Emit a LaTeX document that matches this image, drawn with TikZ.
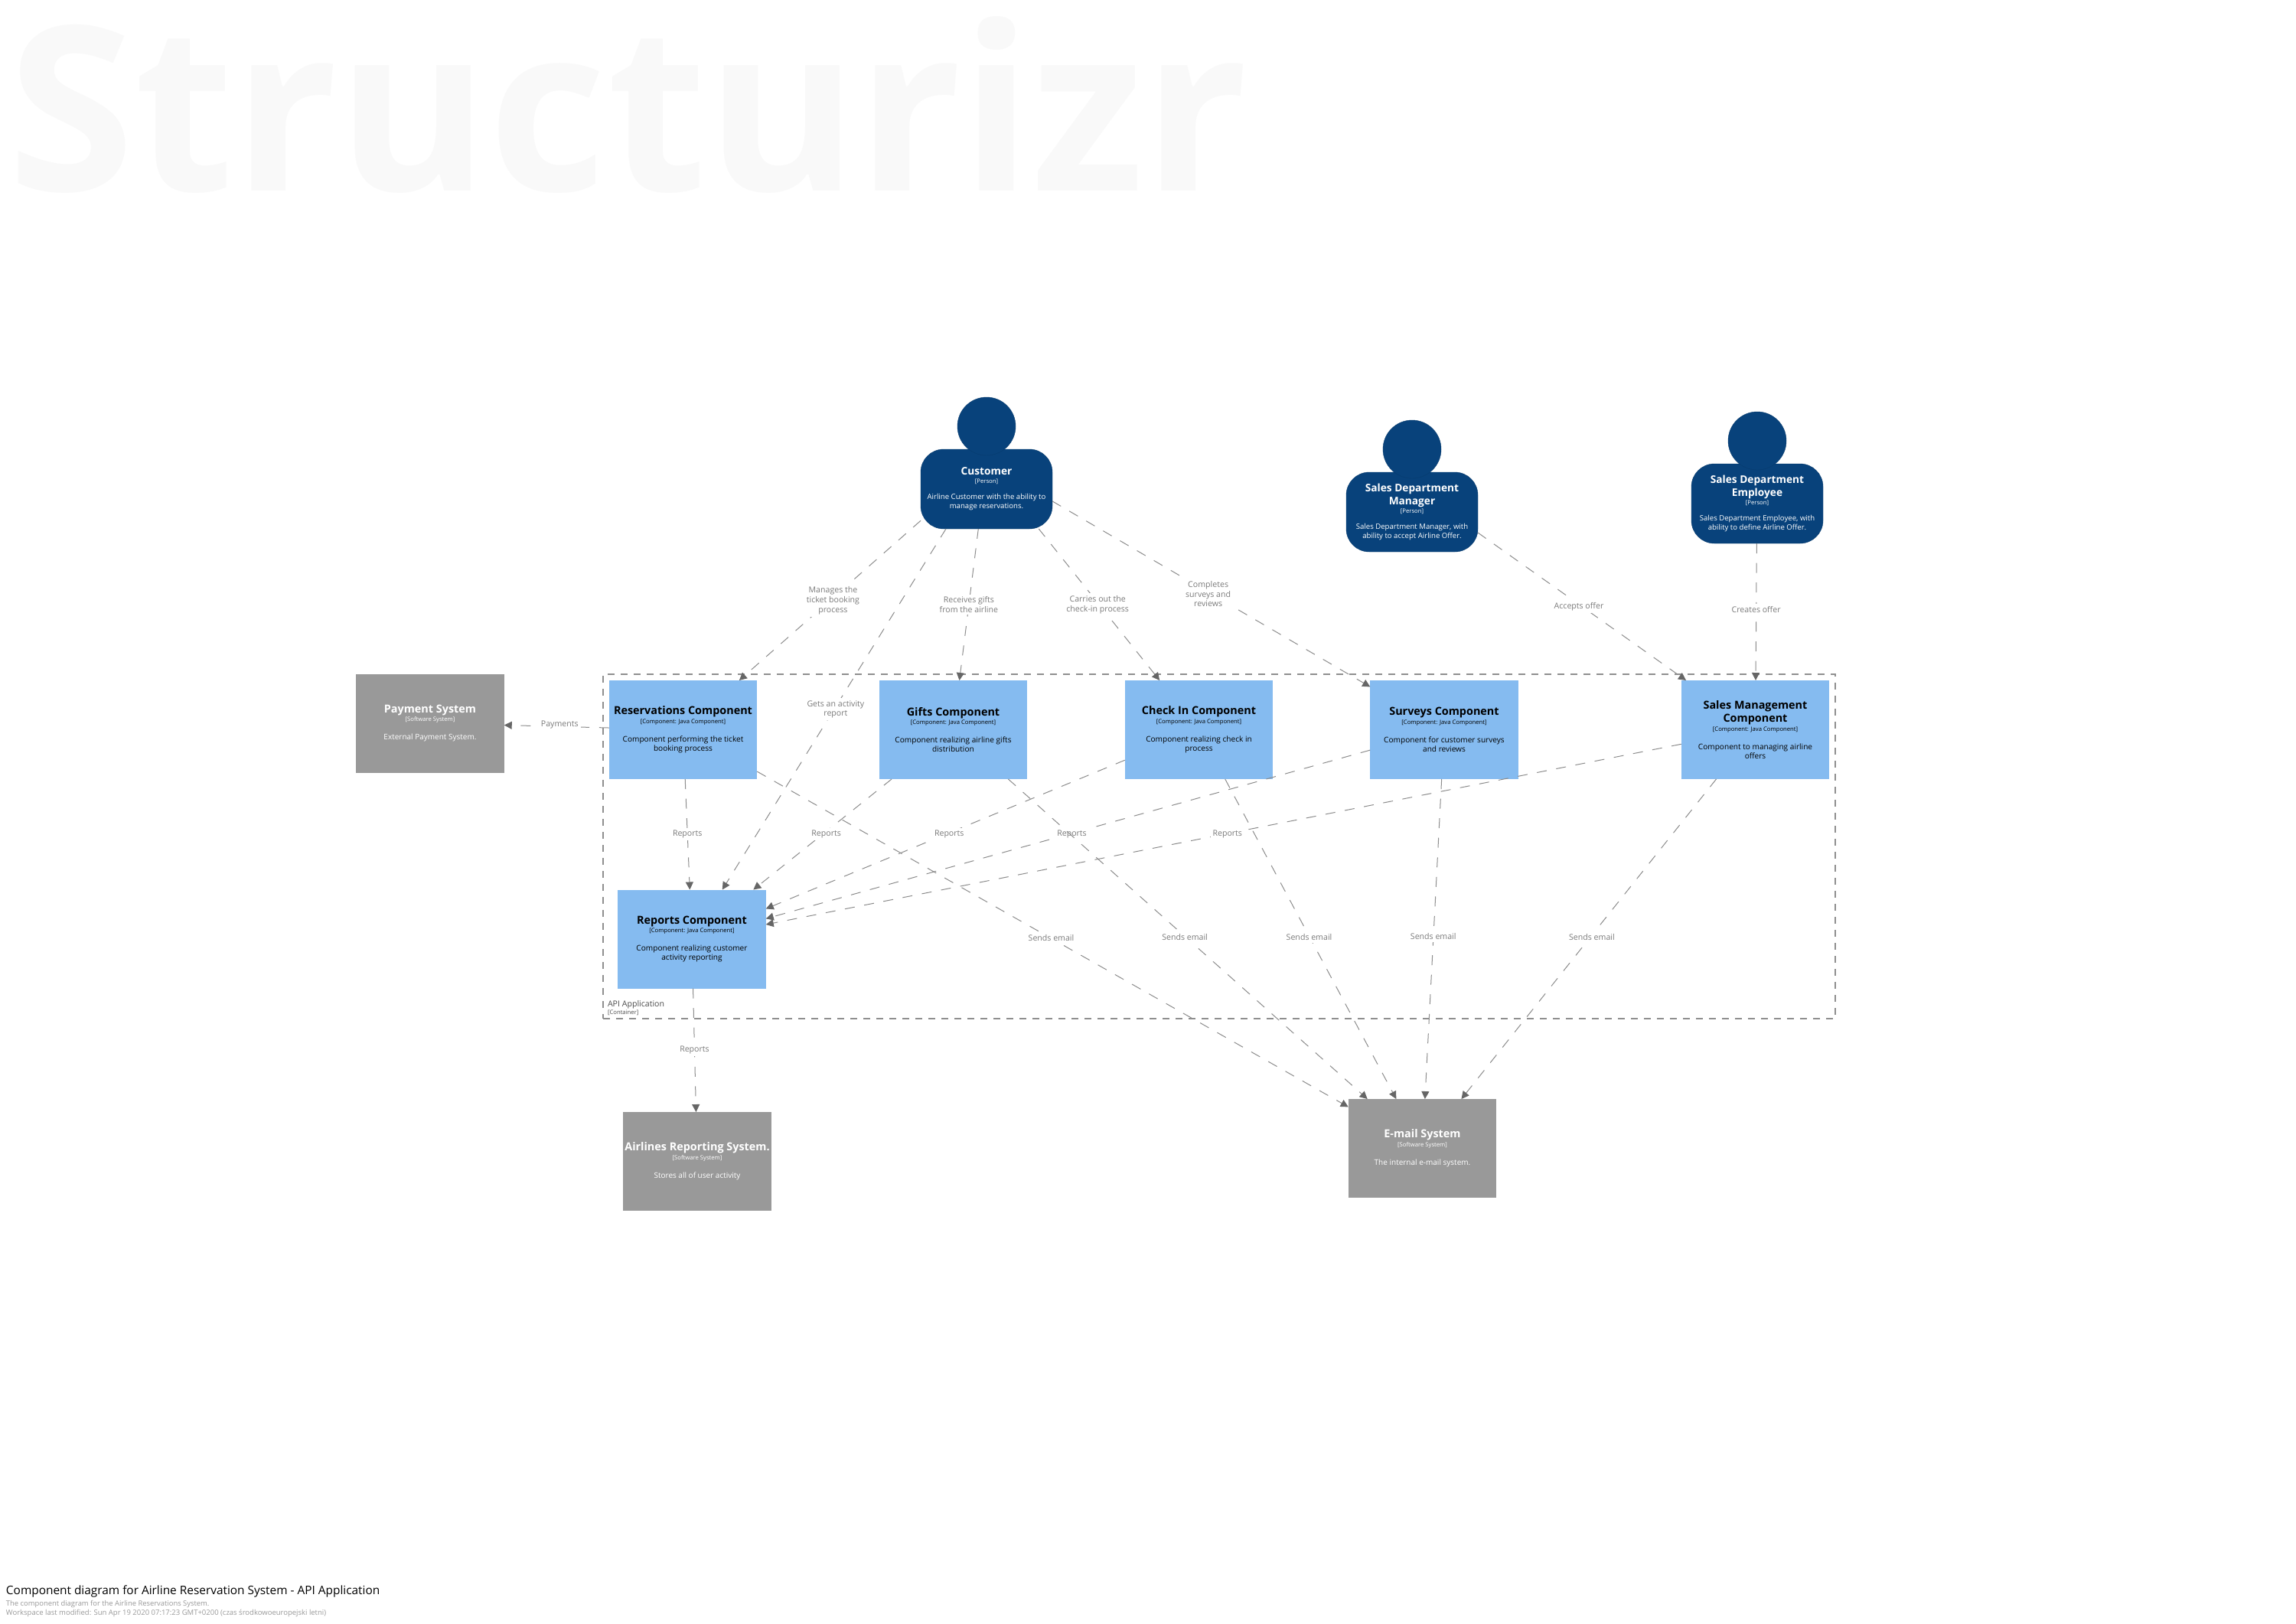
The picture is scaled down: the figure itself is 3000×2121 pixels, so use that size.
\documentclass[tikz,border=0pt]{standalone}
\usepackage{fontspec}
\setmainfont{Open Sans}
\usetikzlibrary{arrows.meta}
\definecolor{persblue}{HTML}{08427B}
\definecolor{persline}{HTML}{073B6E}
\definecolor{compblue}{HTML}{85BBF0}
\definecolor{extgray}{HTML}{999999}
\definecolor{linkgray}{HTML}{8C8C8C}
\definecolor{lblgray}{HTML}{7A7A7A}
\definecolor{tipgray}{HTML}{666666}
\definecolor{wmark}{HTML}{F9F9F9}
\definecolor{boundgray}{HTML}{8F8F8F}
% card text: width, name size, gap name-meta, gap meta-desc, desc size, name, meta, desc
\newcommand{\cardtext}[8]{\parbox{#1pt}{\centering
  \fontsize{#2}{17}\selectfont\bfseries #6\par
  \vspace{#3pt}
  \fontsize{7.7}{10}\selectfont\mdseries #7\par
  \vspace{#4pt}
  \fontsize{#5}{12.2}\selectfont #8\par}}
\newcommand{\compcard}[3]{\cardtext{193}{14.4}{1.7}{11.7}{10.1}{#1}{#2}{#3}}
\newcommand{\perscard}[3]{\cardtext{172}{13.7}{0.8}{8.8}{9.6}{#1}{#2}{#3}}
\newcommand{\extcard}[3]{\cardtext{193}{14.4}{1.7}{11.7}{10}{#1}{#2}{#3}}
\tikzset{
  x=1pt,y=-1pt,
  comp/.style={rectangle,fill=compblue,text=black,minimum width=193.5pt,minimum height=129pt,inner sep=0pt,outer sep=0pt},
  extsys/.style={rectangle,fill=extgray,text=white,minimum width=193.5pt,minimum height=129pt,inner sep=0pt,outer sep=0pt},
  persbox/.style={rectangle,minimum width=172pt,minimum height=172pt,inner sep=0pt,outer sep=0pt},
  persbody/.style={rectangle,rounded corners=30pt,fill=persblue,draw=persline,line width=.4pt,text=white,minimum width=172pt,minimum height=104pt,inner sep=0pt,outer sep=0pt},
  pershead/.style={circle,fill=persblue,draw=persline,line width=.4pt,minimum size=76pt,inner sep=0pt,outer sep=0pt},
  boundary/.style={rectangle,draw=boundgray,line width=1.6pt,dash pattern=on 9pt off 8pt,inner sep=0pt,outer sep=0pt},
  link/.style={draw=linkgray,line width=1pt,dash pattern=on 13pt off 12.6pt,-{Triangle[length=10pt,width=10pt,color=tipgray]}},
  lbl/.style={fill=white,text=lblgray,font=\fontsize{10.6}{12.6}\selectfont,align=center,inner sep=3pt,pos=.5},
  plain/.style={inner sep=0pt,outer sep=0pt}
}
\begin{document}
\begin{tikzpicture}
\useasboundingbox (0,0) rectangle (3000,2121);
\fill[white] (0,0) rectangle (3000,2121);
\node[plain,anchor=base west,text=wmark,font=\fontsize{300}{300}\selectfont\bfseries] (wm) at (10,249) {Structurizr};

\node[boundary,minimum width=1610pt,minimum height=450pt] (api) at (1593,1106) {};
\node[plain,anchor=base west,text=black!70,font=\fontsize{10.6}{12}\selectfont] (apiname) at (794,1315) {API Application};
\node[plain,anchor=base west,text=black!70,font=\fontsize{7.7}{10}\selectfont] (apimeta) at (794,1325) {[Container]};

% persons
\node[persbox] (cust) at (1289,605) {};
\node[persbody] (custb) at (1289,639) {\perscard{Customer}{[Person]}{Airline Customer with the ability to\\manage reservations.}};
\node[pershead] (custh) at (1289,557) {};
\node[persbox] (mgr) at (1845,635) {};
\node[persbody] (mgrb) at (1845,669) {\perscard{Sales Department\\Manager}{[Person]}{Sales Department Manager, with\\ability to accept Airline Offer.}};
\node[pershead] (mgrh) at (1845,587) {};
\node[persbox] (emp) at (2296,624) {};
\node[persbody] (empb) at (2296,658) {\perscard{Sales Department\\Employee}{[Person]}{Sales Department Employee, with\\ability to define Airline Offer.}};
\node[pershead] (emph) at (2296,576) {};

% components
\node[comp] (res) at (892.5,953.5) {\compcard{Reservations Component}{[Component: Java Component]}{Component performing the ticket\\booking process}};
\node[comp] (gift) at (1245.5,953.5) {\compcard{Gifts Component}{[Component: Java Component]}{Component realizing airline gifts\\distribution}};
\node[comp] (chk) at (1566.5,953.5) {\compcard{Check In Component}{[Component: Java Component]}{Component realizing check in\\process}};
\node[comp] (surv) at (1887,953.5) {\compcard{Surveys Component}{[Component: Java Component]}{Component for customer surveys\\and reviews}};
\node[comp] (sales) at (2293.5,953.5) {\compcard{Sales Management\\Component}{[Component: Java Component]}{Component to managing airline\\offers}};
\node[comp] (rep) at (904,1227) {\compcard{Reports Component}{[Component: Java Component]}{Component realizing customer\\activity reporting}};

% external systems
\node[extsys] (pay) at (562,945) {\extcard{Payment System}{[Software System]}{External Payment System.}};
\node[extsys] (air) at (911,1517.5) {\extcard{Airlines Reporting System.}{[Software System]}{Stores all of user activity}};
\node[extsys] (mail) at (1858.5,1500.5) {\extcard{E-mail System}{[Software System]}{The internal e-mail system.}};

% connectors
\draw[link] (cust) -- node[lbl,xshift=4pt] {Manages the\\ticket booking\\process} (res);
\draw[link] (cust) -- node[lbl] {Receives gifts\\from the airline} (gift);
\draw[link] (cust) -- node[lbl,xshift=-2pt] {Carries out the\\check-in process} (chk);
\draw[link] (cust) -- node[lbl,xshift=-4pt] {Completes\\surveys and\\reviews} (surv);
\draw[link] (cust) -- node[lbl,xshift=2pt] {Gets an activity\\report} (rep);
\draw[link] (mgr) -- node[lbl,xshift=-4pt] {Accepts offer} (sales);
\draw[link] (emp) -- node[lbl,yshift=3pt] {Creates offer} (sales);
\draw[link] (res) -- node[lbl,xshift=4pt,yshift=2pt] {Payments} (pay);
\draw[link] (res) -- node[lbl] {Reports} (rep);
\draw[link] (gift) -- node[lbl,xshift=5pt] {Reports} (rep);
\draw[link] (chk) -- node[lbl,xshift=5pt] {Reports} (rep);
\draw[link] (surv) -- node[lbl,xshift=5pt] {Reports} (rep);
\draw[link] (sales) -- node[lbl,xshift=5pt] {Reports} (rep);
\draw[link] (rep) -- node[lbl] {Reports} (air);
\draw[link] (res) -- node[lbl,xshift=-2pt,yshift=2pt] {Sends email} (mail);
\draw[link] (gift) -- node[lbl,xshift=-4pt,yshift=2pt] {Sends email} (mail);
\draw[link] (chk) -- node[lbl,xshift=-2pt,yshift=2pt] {Sends email} (mail);
\draw[link] (surv) -- node[lbl,yshift=3pt] {Sends email} (mail);
\draw[link] (sales) -- node[lbl,xshift=4pt,yshift=2pt] {Sends email} (mail);

% footer
\node[plain,anchor=base west,text=black,font=\fontsize{15.4}{18}\selectfont] (ftitle) at (8,2083) {Component diagram for Airline Reservation System - API Application};
\node[plain,anchor=base west,text=black!40,font=\fontsize{9.4}{12}\selectfont] (fdesc) at (8,2098) {The component diagram for the Airline Reservations System.};
\node[plain,anchor=base west,text=black!40,font=\fontsize{9.5}{12}\selectfont] (fmod) at (8,2110) {Workspace last modified: Sun Apr 19 2020 07:17:23 GMT+0200 (czas środkowoeuropejski letni)};
\end{tikzpicture}
\end{document}
